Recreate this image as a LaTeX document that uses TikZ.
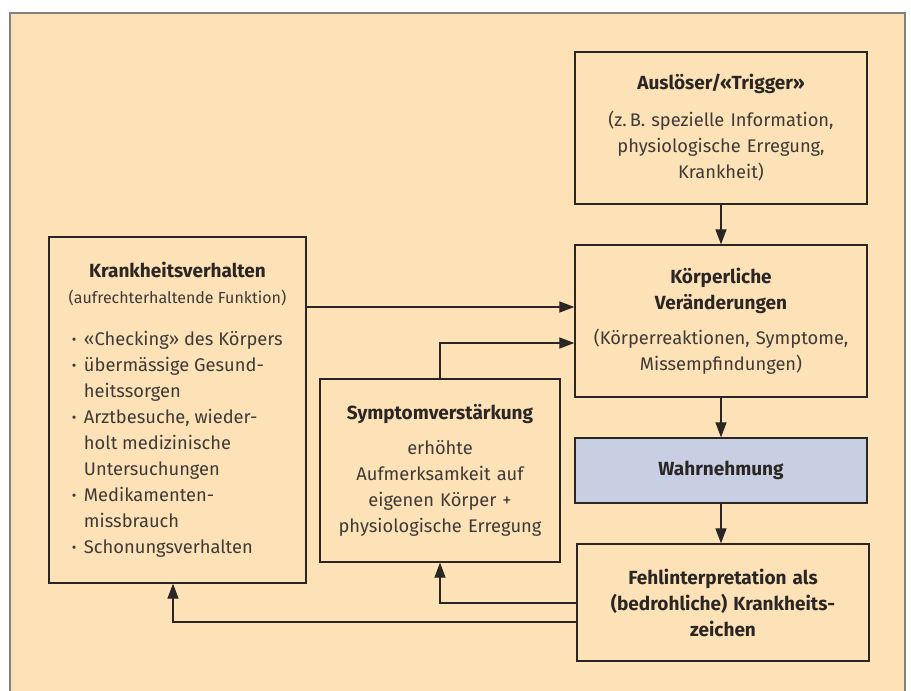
\documentclass[tikz,border=0pt]{standalone}
\usepackage{fontspec}
\setmainfont{Fira Sans}
\usetikzlibrary{arrows.meta,calc}
\definecolor{bg}{HTML}{FDE1B7}
\definecolor{framec}{HTML}{808080}
\definecolor{wahrfill}{HTML}{C9CFE3}
\definecolor{ink}{HTML}{2A2624}
\definecolor{txt}{HTML}{3E3A36}
\newcommand\ttl[1]{{\color{ink}\fontsize{19pt}{26pt}\selectfont\bfseries #1}}
\newcommand\bul{\makebox[12pt][l]{\raisebox{1pt}{\fontsize{14}{14}\selectfont •}}}
\newcommand\ind{\hspace*{12pt}}
\tikzset{
  box/.style={draw=ink, line width=1.3pt, fill=bg, rectangle, inner sep=0pt,
    align=center, font=\fontsize{18.3pt}{26pt}\selectfont, text=txt},
  arr/.style={draw=ink, line width=1.2pt, -{Triangle[length=15pt,width=11pt]}},
  link/.style={draw=ink, line width=1.2pt}
}
\begin{document}
\begin{tikzpicture}[x=1pt,y=-1pt]
\useasboundingbox (0,0) rectangle (911,691);
\fill[bg] (10,13) rectangle (905,691);
\draw[framec, line width=1.6pt] (10,691) -- (10,13) -- (905,13) -- (905,691);

\node[box, minimum width=292pt, minimum height=152pt, text width=280pt] (trig) at (721,128)
  {\ttl{Auslöser/«Trigger»}\\[11pt] (z.\,B. spezielle Information,\\ physiologische Erregung,\\ Krankheit)};

\node[box, minimum width=292pt, minimum height=152pt, text width=280pt] (koerp) at (721,321)
  {\ttl{Körperliche}\\ \ttl{Veränderungen}\\[9pt] (Körperreaktionen, Symptome,\\ Missempfindungen)};

\node[box, fill=wahrfill, minimum width=292pt, minimum height=65pt, text width=280pt] (wahr) at (721,470.5)
  {\ttl{Wahrnehmung}};

\node[box, minimum width=292pt, minimum height=117pt, text width=280pt] (fehl) at (723,602.5)
  {\ttl{Fehlinterpretation als}\\ \ttl{(bedrohliche) Krankheits-}\\ \ttl{zeichen}};

\node[box, minimum width=240pt, minimum height=183pt, text width=232pt] (symp) at (440,470.5)
  {\ttl{Symptomverstärkung}\\[9pt] erhöhte\\ Aufmerksamkeit auf\\ eigenen Körper +\\ physiologische Erregung};

\node[box, minimum width=257pt, minimum height=346pt] (krank) at (177.5,410)
  {\begin{minipage}{236pt}\centering
   \ttl{Krankheitsverhalten}\\
   {\fontsize{16pt}{22pt}\selectfont (aufrechterhaltende Funktion)}\\[16pt]
   \raggedright
   \hspace*{12.5pt}\bul «Checking» des Körpers\\
   \hspace*{12.5pt}\bul übermässige Gesund-\\
   \hspace*{12.5pt}\ind heitssorgen\\
   \hspace*{12.5pt}\bul Arztbesuche, wieder-\\
   \hspace*{12.5pt}\ind holt medizinische\\
   \hspace*{12.5pt}\ind Untersuchungen\\
   \hspace*{12.5pt}\bul Medikamenten-\\
   \hspace*{12.5pt}\ind missbrauch\\
   \hspace*{12.5pt}\bul Schonungsverhalten
   \end{minipage}};

\coordinate (kin1) at ([yshift=14pt]koerp.west);
\coordinate (kin2) at ([yshift=-22pt]koerp.west);
\coordinate (fout1) at ([yshift=-0.5pt]fehl.west);
\coordinate (fout2) at ([yshift=-19.5pt]fehl.west);
\coordinate (kbot) at ([xshift=-4.5pt]krank.south);

\draw[arr] (trig.south) -- (koerp.north);
\draw[arr] (koerp.south) -- (wahr.north);
\draw[arr] (wahr.south) -- (wahr.south |- fehl.north);
\draw[arr] (krank.east |- kin1) -- (kin1);
\draw[arr] (symp.north) |- (kin2);
\draw[arr] (fout1) -| (symp.south);
\draw[arr] (fout2) -| (kbot);
\end{tikzpicture}
\end{document}
